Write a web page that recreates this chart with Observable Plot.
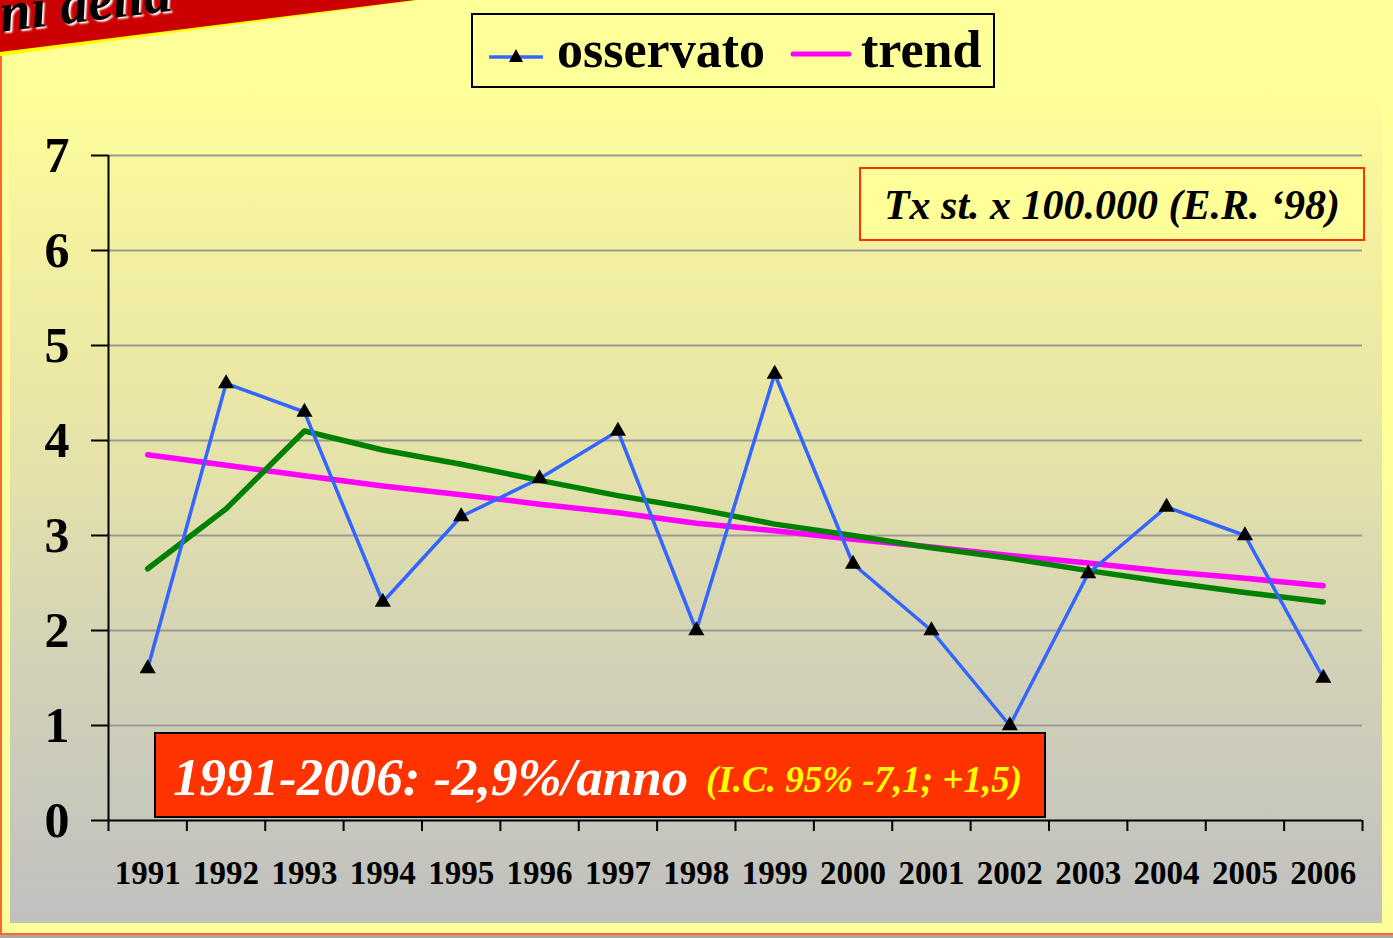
<!DOCTYPE html>
<html>
<head>
<meta charset="utf-8">
<script src="https://cdn.jsdelivr.net/npm/d3@7"></script>
<script src="https://cdn.jsdelivr.net/npm/@observablehq/plot@0.6"></script>
<style>
  html, body { margin: 0; padding: 0; }
  body { width: 1393px; height: 938px; overflow: hidden; position: relative; background: #a8a8a8; font-family: "Liberation Serif", "Times New Roman", serif; }
  #frame { position: absolute; left: 0; top: 0; width: 1391px; height: 933px; background: #ffff99; border-left: 2px solid #ff6633; border-bottom: 2px solid #ff6633; }
  #inner { position: absolute; left: 10px; top: 85px; width: 1372px; height: 838px; background: linear-gradient(#ffff99 0%, #f5f39e 15%, #e5e2aa 45%, #d2d1b7 70%, #c0c0c0 100%); }
  #banner { position: absolute; left: 0; top: 0; width: 420px; height: 56px; background: #ffff00; clip-path: polygon(0 0, 420px 0, 0 56px); }
  #bannerRed { position: absolute; left: 0; top: 0; width: 415px; height: 52px; background: #cc0000; clip-path: polygon(0 0, 415px 0, 0 52px); overflow: hidden; }
  #bannerText { position: absolute; left: -4px; top: -15px; font: italic bold 56px "Liberation Serif", serif; color: #000; transform: rotate(-7deg); transform-origin: 0 0; text-shadow: 2px 2px 2px #fff; white-space: nowrap; line-height: 56px; }
  #chart { position: absolute; left: 0; top: 0; }
  #legend { position: absolute; left: 471px; top: 13px; width: 520px; height: 71px; border: 2px solid #000; background: #ffff99; }
  .lg { position: absolute; top: 4px; font: bold 52px "Liberation Serif", serif; color: #000; line-height: 62px; }
  #txbox { position: absolute; left: 859px; top: 167px; width: 502px; height: 70px; border: 2px solid #ff3300; background: #ffff99; text-align: center; font: italic bold 42px "Liberation Serif", serif; line-height: 72px; color: #000; white-space: nowrap; }
  #redbox { position: absolute; left: 154px; top: 732px; width: 888px; height: 82px; border: 2px solid #000; background: #ff3300; white-space: nowrap; }
  #redbox .a { position: absolute; left: 17px; top: 12px; font: italic bold 53px "Liberation Serif", serif; color: #fff; line-height: 62px; }
  #redbox .b { position: absolute; left: 550px; top: 24px; font: italic bold 37px "Liberation Serif", serif; color: #ffff00; line-height: 44px; }
</style>
</head>
<body>
<div id="frame"></div>
<div id="inner"></div>
<div id="banner"></div>
<div id="bannerRed"><div id="bannerText">ni della</div></div>
<div id="chart"></div>
<div id="legend">
  <svg style="position:absolute;left:14px;top:33px" width="60" height="20">
    <line x1="2" y1="9" x2="56" y2="9" stroke="#3366ff" stroke-width="3.5"/>
    <path d="M29,1 L36,14 L22,14 Z" fill="#000"/>
  </svg>
  <div class="lg" style="left:84px">osservato</div>
  <svg style="position:absolute;left:316px;top:30px" width="64" height="20">
    <line x1="4" y1="9" x2="60" y2="9" stroke="#ff00ff" stroke-width="5" stroke-linecap="round"/>
  </svg>
  <div class="lg" style="left:388px">trend</div>
</div>
<div id="txbox">Tx st. x 100.000 (E.R. ‘98)</div>
<div id="redbox"><span class="a">1991-2006: -2,9%/anno</span><span class="b">(I.C. 95% -7,1; +1,5)</span></div>
<script>
const years = [1991,1992,1993,1994,1995,1996,1997,1998,1999,2000,2001,2002,2003,2004,2005,2006];
const osservato = [1.6,4.6,4.3,2.3,3.2,3.6,4.1,2.0,4.7,2.7,2.0,1.0,2.6,3.3,3.0,1.5];
const trend = [3.85,3.74,3.63,3.52,3.43,3.33,3.24,3.13,3.05,2.96,2.88,2.79,2.71,2.62,2.55,2.47];
const mediaMobile = [2.65,3.28,4.1,3.9,3.75,3.58,3.42,3.28,3.12,3.0,2.87,2.76,2.63,2.51,2.4,2.3];
const yTicks = [0,1,2,3,4,5,6,7];

const rows = (vals) => years.map((y, i) => ({year: y, value: vals[i]}));
const obsRows = rows(osservato);
const trendRows = rows(trend);
const mmRows = rows(mediaMobile);
const xDomain = [years[0] - 0.5, years[years.length - 1] + 0.5];
const boundaries = [...years.map(y => y - 0.5), years[years.length - 1] + 0.5];

const plot = Plot.plot({
  width: 1393,
  height: 938,
  marginLeft: 108,
  marginRight: 31,
  marginTop: 155,
  marginBottom: 118,
  style: {background: "transparent", fontFamily: "'Liberation Serif', serif", overflow: "visible"},
  x: {type: "linear", domain: xDomain},
  y: {domain: [0, 7]},
  marks: [
    Plot.ruleY(yTicks.filter(d => d > 0), {stroke: "#999", strokeWidth: 2}),
    Plot.axisY({ticks: yTicks, tickSize: 17, tickPadding: 22, tickFormat: d => String(d), fontSize: 50, fontWeight: "bold", stroke: "#000", strokeWidth: 2, label: null, color: "#000"}),
    Plot.axisX({ticks: boundaries, tickSize: 11, tickFormat: () => "", stroke: "#000", strokeWidth: 2, label: null}),
    Plot.axisX({ticks: years, tickSize: 0, tickPadding: 40, tickFormat: d => String(d), fontSize: 33, fontWeight: "bold", label: null, color: "#000"}),
    Plot.ruleX([xDomain[0]], {y1: 0, y2: 7, stroke: "#000", strokeWidth: 2}),
    Plot.ruleY([0], {stroke: "#000", strokeWidth: 2}),
    Plot.line(trendRows, {x: "year", y: "value", stroke: "#ff00ff", strokeWidth: 5.5, strokeLinecap: "round"}),
    Plot.line(mmRows, {x: "year", y: "value", stroke: "#008000", strokeWidth: 5.5, strokeLinecap: "round"}),
    Plot.line(obsRows, {x: "year", y: "value", stroke: "#3366ff", strokeWidth: 3.5}),
    Plot.dot(obsRows, {x: "year", y: "value", symbol: "triangle", fill: "#000", r: 6})
  ]
});
document.getElementById("chart").appendChild(plot);
</script>
</body>
</html>
